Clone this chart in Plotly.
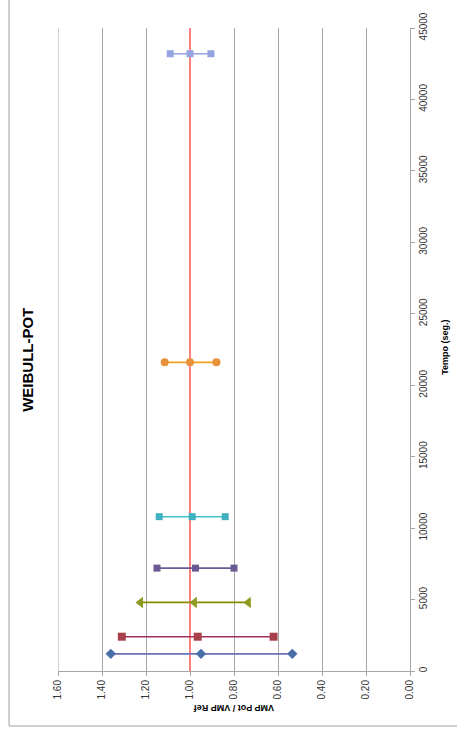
import plotly.graph_objects as go

# Ensaio WEIBULL-POT: razão VMP Pot / VMP Ref por tempo de ensaio
tempos = [1200, 2400, 4800, 7200, 10800, 21600, 43200]
vmp_max = [1.36, 1.31, 1.225, 1.15, 1.14, 1.115, 1.09]
vmp_med = [0.95, 0.965, 0.98, 0.975, 0.99, 1.00, 1.00]
vmp_min = [0.535, 0.62, 0.735, 0.80, 0.84, 0.88, 0.905]

ref_tempo = [0, 45000]
ref_vmp = [1.0, 1.0]

tempo_ticks = list(range(0, 45001, 5000))
vmp_ticks = [0.0, 0.2, 0.4, 0.6, 0.8, 1.0, 1.2, 1.4, 1.6]

marker_symbols = ["diamond", "square", "triangle-left", "square", "square", "circle", "square"]
marker_colors = ["#4A6EA8", "#A8404C", "#8F9A22", "#6A5A94", "#3FB0C0", "#E8903A", "#94A4E2"]
line_colors = ["#6A72B8", "#A03060", "#8A8A00", "#6A5A94", "#40C4CC", "#F5A21E", "#94A4E2"]
marker_sizes = [8, 8, 10, 7, 7, 8, 7]

fig = go.Figure()

# linha de referência VMP = 1
fig.add_trace(go.Scatter(
    x=ref_vmp, y=ref_tempo, mode="lines",
    line=dict(color="#FF7F7F", width=2), showlegend=False, hoverinfo="skip",
))

for i, t in enumerate(tempos):
    fig.add_trace(go.Scatter(
        x=[vmp_max[i], vmp_med[i], vmp_min[i]],
        y=[t, t, t],
        mode="lines+markers",
        line=dict(color=line_colors[i], width=1.6),
        marker=dict(symbol=marker_symbols[i], size=marker_sizes[i],
                    color=marker_colors[i]),
        showlegend=False,
        cliponaxis=False,
    ))

font_family = "Liberation Sans, Arial, sans-serif"

fig.update_layout(
    width=457, height=737,
    margin=dict(l=58, r=47, t=28, b=66),
    paper_bgcolor="white", plot_bgcolor="white",
    font=dict(family=font_family, size=10, color="#222"),
    xaxis=dict(
        range=[1.6, 0], tickvals=vmp_ticks,
        ticktext=[f"{v:.2f}" for v in vmp_ticks],
        tickangle=-90, showgrid=True, gridcolor="#A6A6A6", gridwidth=1,
        zeroline=False, showline=True, linecolor="#A6A6A6", linewidth=1,
        ticks="outside", ticklen=4, tickcolor="#A6A6A6",
        tickfont=dict(size=10, color="#333"),
    ),
    yaxis=dict(
        range=[0, 45000], tickvals=tempo_ticks,
        ticktext=[str(v) for v in tempo_ticks],
        side="right", tickangle=-90, showgrid=False, zeroline=False,
        showline=True, linecolor="#A6A6A6", linewidth=1,
        ticks="outside", ticklen=4, tickcolor="#A6A6A6",
        tickfont=dict(size=10, color="#333"),
    ),
    annotations=[
        dict(text="<b>WEIBULL-POT</b>", textangle=-90, xref="paper", yref="paper",
             x=-0.085, y=0.484, xanchor="center", yanchor="middle",
             showarrow=False, font=dict(size=15, color="#000", family=font_family)),
        dict(text="<b>VMP Pot / VMP Ref</b>", textangle=180, xref="paper", yref="paper",
             x=0.5, y=-0.0575, xanchor="center", yanchor="middle",
             showarrow=False, font=dict(size=9, color="#000", family=font_family)),
        dict(text="<b>Tempo (seg.)</b>", textangle=-90, xref="paper", yref="paper",
             x=1.099, y=0.504, xanchor="center", yanchor="middle",
             showarrow=False, font=dict(size=9, color="#000", family=font_family)),
    ],
    shapes=[
        # grade na borda esquerda (1.60)
        dict(type="line", xref="x", yref="paper", x0=1.6, x1=1.6, y0=0, y1=1,
             line=dict(color="#A6A6A6", width=1), layer="below"),
        # moldura do gráfico
        dict(type="line", xref="paper", yref="paper", x0=-0.139, x1=-0.139,
             y0=-0.0855, y1=1.1, line=dict(color="#BFBFBF", width=1.5)),
        dict(type="line", xref="paper", yref="paper", x0=-0.139, x1=1.2,
             y0=-0.0855, y1=-0.0855, line=dict(color="#BFBFBF", width=1.5)),
    ],
)

fig.write_html("out.html")
